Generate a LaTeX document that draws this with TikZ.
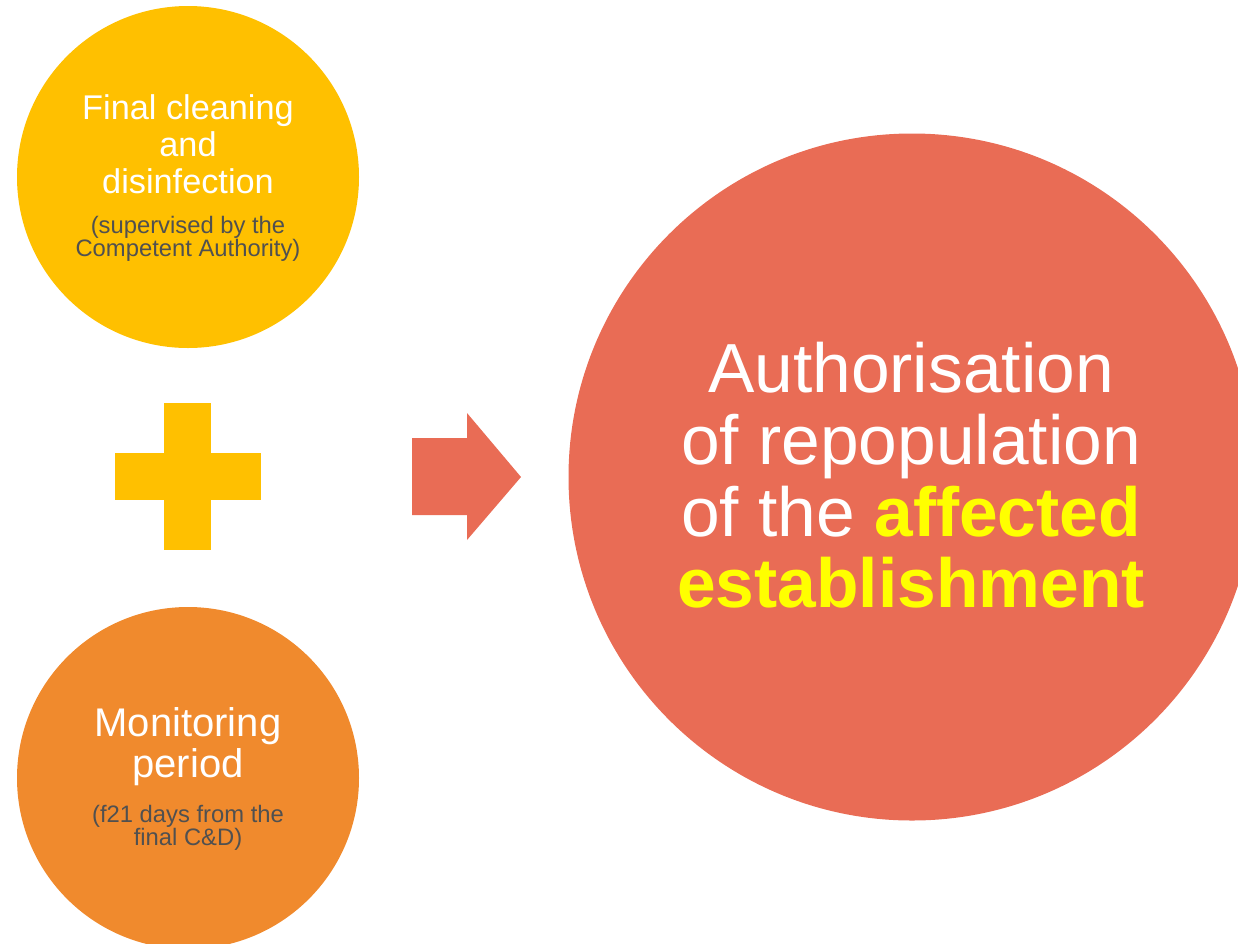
\documentclass[tikz,border=0pt]{standalone}
\usepackage{fontspec}
\setmainfont{Liberation Sans}
\definecolor{cyellow}{HTML}{FFC000}
\definecolor{corange}{HTML}{F08A2D}
\definecolor{cred}{HTML}{E96C55}
\definecolor{subgrey}{HTML}{505050}
\definecolor{hiyellow}{HTML}{FFFF00}
\tikzset{
  blob/.style={circle, inner sep=0pt, minimum size=#1},
  ln/.style={anchor=base, inner sep=0pt, text=white},
  sub/.style={anchor=base, inner sep=0pt, text=subgrey, font=\fontsize{23.8}{24}\selectfont},
  mid/.style={font=\fontsize{34.3}{36}\selectfont},
  mon/.style={font=\fontsize{40}{42}\selectfont},
  big/.style={font=\fontsize{69.5}{72}\selectfont},
}
\begin{document}
\begin{tikzpicture}[x=1pt,y=-1pt]
\useasboundingbox (0,0) rectangle (1238,943);
\begin{scope}
\clip (0,0) rectangle (1238,943);
% circles
\node[blob=342pt, fill=cyellow] (c1) at (188,177) {};
\node[blob=342pt, fill=corange] (c2) at (188,778) {};
\node[blob=687pt, fill=cred] (c3) at (912,477) {};
\end{scope}
% plus
\fill[cyellow] (164,403) rectangle (211,550);
\fill[cyellow] (115,453) rectangle (261,500);
% arrow
\fill[cred] (412,438) -- (467,438) -- (467,413) -- (521,477) -- (467,540) -- (467,515) -- (412,515) -- cycle;
% text circle 1
\node[ln, mid] (t1a) at (188,119) {Final cleaning};
\node[ln, mid] (t1b) at (188,156) {and};
\node[ln, mid] (t1c) at (188,193) {disinfection};
\node[sub] (s1a) at (188,233) {(supervised by the};
\node[sub] (s1b) at (188,256) {Competent Authority)};
% text circle 2
\node[ln, mon] (t2a) at (188,736) {Monitoring};
\node[ln, mon] (t2b) at (188,777) {period};
\node[sub] (s2a) at (188,822) {(f21 days from the};
\node[sub] (s2b) at (188,845) {final C\&D)};
% text circle 3
\node[ln, big] (t3a) at (911,392) {Authorisation};
\node[ln, big] (t3b) at (911,464) {of repopulation};
\node[ln, big] (t3c) at (911,536) {of the \textcolor{hiyellow}{\bfseries affected}};
\node[ln, big, text=hiyellow] (t3d) at (911,607) {\bfseries establishment};
\end{tikzpicture}
\end{document}
